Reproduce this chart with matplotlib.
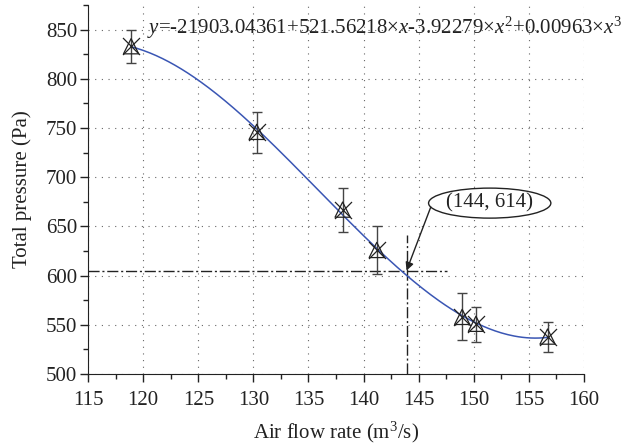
import numpy as np
import matplotlib
matplotlib.use('Agg')
import matplotlib.pyplot as plt
from matplotlib.patches import Ellipse
from matplotlib.ticker import MultipleLocator

plt.rcParams['font.family'] = ['Liberation Serif', 'DejaVu Serif']
plt.rcParams['mathtext.fontset'] = 'custom'
plt.rcParams['mathtext.rm'] = 'Liberation Serif'
plt.rcParams['mathtext.it'] = 'Liberation Serif:italic'

# measured points (air flow rate, total pressure) with error bars
flow = [118.9, 130.3, 138.1, 141.2, 148.95, 150.2, 156.7]
pressure = [833, 746, 667, 626, 558, 551, 538]
err_low = [17, 21, 23, 24, 23, 19, 16]
err_high = [16, 20, 22, 24, 24, 17, 15]

# operating point marked on the chart
op_x = 143.9
op_y = 605
op_label = '(144, 614)'
equation = (r'$y$=-21903.04361+521.56218×$x$-3.92279×$x^2$'
            r'+0.00963×$x^3$')

fs = 15
ink = '#222222'

fig = plt.figure(figsize=(6.34, 4.45), dpi=100)
ax = fig.add_axes([0.139, 0.1596, 0.782, 0.8294])

# cubic fit through the measured points
coef = np.polyfit(flow, pressure, 3)
xs = np.linspace(min(flow), max(flow), 200)
ax.plot(xs, np.polyval(coef, xs), color='#3a56b4', lw=1.1, zorder=3)

ax.errorbar(flow, pressure, yerr=[err_low, err_high], fmt='none',
            ecolor='#444444', elinewidth=1, capsize=3.5, capthick=1, zorder=4)
ax.scatter(flow, pressure, marker='^', s=120, facecolors='none',
           edgecolors=ink, linewidths=0.9, zorder=5)
ax.scatter(flow, pressure, marker='x', s=150, color=ink,
           linewidths=0.9, zorder=5)

# dash-dot guides to the operating point
ax.plot([115, 147.6], [op_y, op_y], color=ink, lw=1,
        linestyle=(0, (8, 2, 1.5, 2)), zorder=2)
ax.plot([op_x, op_x], [500, 641], color=ink, lw=1,
        linestyle=(0, (8, 2, 1.5, 2)), zorder=2)

ax.add_patch(Ellipse((151.45, 673.6), 11.1, 30.5, facecolor='white',
                     edgecolor=ink, lw=1, zorder=6))
ax.text(151.45, 673.6, op_label, ha='center', va='center', fontsize=fs,
        color=ink, zorder=7)
ax.annotate('', xy=(op_x, op_y), xytext=(146.1, 669.6),
            arrowprops=dict(arrowstyle='-|>', color=ink, lw=1,
                            mutation_scale=12, shrinkA=0, shrinkB=0),
            zorder=6)

ax.text(120.3, 852, equation, ha='left', va='center', fontsize=fs,
        color=ink, clip_on=False)

ax.set_xlim(115, 160)
ax.set_ylim(500, 875)
ax.xaxis.set_major_locator(MultipleLocator(5))
ax.xaxis.set_minor_locator(MultipleLocator(2.5))
ax.yaxis.set_minor_locator(MultipleLocator(25))
ax.set_yticks(np.arange(500, 851, 50))

ax.grid(True, which='major', color='#666666', linestyle=(0, (1, 5)), lw=0.8)
for s in ['top', 'right']:
    ax.spines[s].set_visible(False)
ax.spines['left'].set_color(ink)
ax.spines['bottom'].set_color(ink)
ax.tick_params(which='major', length=6, width=1, labelsize=fs,
               colors=ink, pad=2)
ax.tick_params(axis='x', which='major', pad=6)
ax.tick_params(which='minor', length=3.5, width=1, colors=ink)

ax.set_xlabel('Air flow rate (m$^3$/s)', fontsize=fs, color=ink,
              labelpad=7)
ax.set_ylabel('Total pressure (Pa)', fontsize=fs, color=ink,
              labelpad=10)

fig.savefig('out.png', dpi=100)
